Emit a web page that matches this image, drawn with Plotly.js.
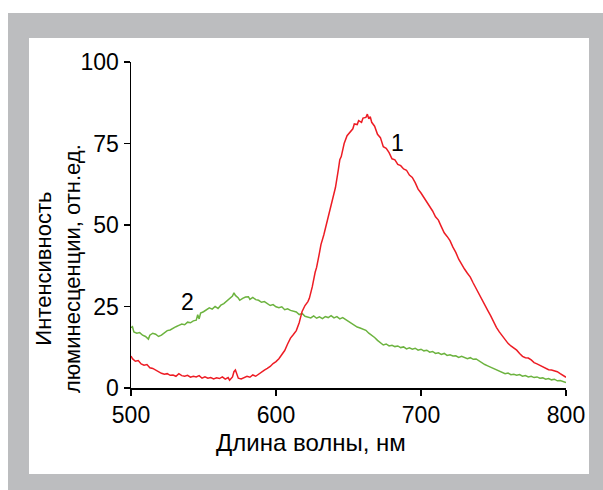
<!DOCTYPE html>
<html>
<head>
<meta charset="utf-8">
<script src="https://cdn.plot.ly/plotly-3.0.1.min.js"></script>
<style>
html,body{margin:0;padding:0;background:#ffffff;}
#chart{position:absolute;left:8px;top:13px;width:595px;height:477px;}
</style>
</head>
<body>
<div id="chart"></div>
<script>
// Curve 1 (red)
const wl1 = [500,501,503,505,507,509,511,513,515,517,519,521,523,525,527,529,531,533,535,537,539,541,543,545,547,549,551,553,555,557,559,561,563,565,567,568,570,571,572,573,574,576,578,580,582,584,586,588,590,592,594,596,598,600,602,604,606,608,610,612,614,616,618,620,622,623,625,627,628,630,631,633,635,637,639,641,643,644,645,647,649,651,653,654,656,657,659,660,662,663,664,665,666,668,670,672,674,676,678,680,682,684,686,688,690,692,694,696,698,700,702,704,706,708,710,712,714,716,718,720,722,724,726,728,730,732,734,736,738,740,742,744,746,748,750,752,754,756,758,760,762,764,766,768,770,772,774,776,778,780,782,784,786,788,790,792,794,796,798,800];
const int1 = [9.8,9.0,8.2,8.4,7.4,7.0,7.2,6.2,6.0,5.5,4.8,4.5,4.2,4.4,3.9,4.0,3.6,4.4,3.8,3.6,3.9,3.3,3.6,3.4,3.8,3.0,3.4,3.0,3.2,2.8,3.1,2.9,3.4,2.7,3.2,2.4,3.4,5.0,5.5,4.2,3.0,2.8,3.2,3.6,3.3,4.0,3.6,4.3,5.0,5.5,6.0,6.6,7.5,8.1,9.0,10.2,11.5,13.5,15.3,16.4,17.6,20.0,23.5,25.3,26.5,27.5,31,35.5,37,41.5,44,47,50.5,54,58,61.5,67,70,71,75,77.4,78.5,79.5,81,80.8,82,81.5,82.8,83,84,82.6,83.2,81.5,80.3,77.8,76.8,74,73.5,72.2,70.3,70.0,68.6,68.2,67.2,66.8,65.3,64.6,63.0,61.0,59.8,58.5,56.8,55.5,54.3,52.5,51.5,49.5,47.6,46.5,45.2,43.2,41.6,39.5,37.8,36.5,35.2,34.0,32.2,30.5,28.6,26.8,25.2,23.8,22.2,20.2,18.6,17.2,16.0,14.9,13.7,12.9,12.2,11.6,10.6,9.7,9.3,9.2,8.6,7.8,7.4,7.0,6.6,6.0,5.6,5.5,5.2,5.0,4.4,3.9,3.3];

// Curve 2 (green)
const wl2 = [500,501,502,504,506,508,510,512,513,515,517,519,521,523,525,527,529,531,533,535,537,539,541,543,545,546,547,548,550,552,554,556,558,560,562,564,566,568,570,571,572,574,575,577,579,581,582,584,586,588,590,592,594,596,598,600,602,604,606,608,610,612,614,616,618,620,622,624,626,628,630,632,634,636,638,640,642,644,646,648,650,652,654,656,658,660,662,664,666,668,670,672,674,676,678,680,682,684,686,688,690,692,694,696,698,700,702,704,706,708,710,712,714,716,718,720,722,724,726,728,730,732,734,736,738,740,742,744,746,748,750,752,754,756,758,760,762,764,766,768,770,772,774,776,778,780,782,784,786,788,790,792,794,796,798,800];
const int2 = [18.5,18.8,17.2,16.8,17.0,16.2,15.8,15.0,16.2,16.8,16.5,15.8,16.2,17.0,17.6,17.8,18.4,18.8,19.2,19.6,19.4,20.2,20.0,20.6,20.8,22.5,21.2,23.0,23.4,24.0,24.6,24.2,25.0,24.4,25.4,25.9,26.6,27.3,28.2,29.2,28.4,27.6,26.9,27.5,27.9,28.0,27.2,27.8,27.1,26.9,26.3,26.5,25.8,25.3,25.6,24.9,24.6,24.9,24.0,24.3,23.8,23.5,23.3,22.5,22.9,22.0,21.8,21.5,22.1,21.4,21.8,21.3,21.9,21.6,22.2,21.5,21.9,21.2,21.6,21.0,20.3,19.8,19.1,18.7,18.4,18.0,17.7,16.8,16.2,15.5,14.6,14.0,13.2,13.5,12.9,13.1,12.7,12.9,12.4,12.6,12.0,12.3,11.9,12.2,11.6,11.9,11.4,11.6,11.0,11.2,10.6,10.8,10.3,10.6,10.0,10.2,9.8,9.9,9.4,9.7,9.3,9.0,9.3,8.8,8.9,8.3,7.9,7.2,6.8,6.4,6.0,5.4,5.0,4.8,4.4,4.6,4.1,4.2,3.9,4.1,3.6,3.8,3.4,3.6,3.2,3.4,3.0,3.1,2.7,2.9,2.5,2.7,2.2,2.3,1.9,1.7];

const xTicks = [500, 600, 700, 800];
const yTicks = [0, 25, 50, 75, 100];
const curveLabels = ['1', '2'];
const xTitle = 'Длина волны, нм';
const yTitle = 'Интенсивность<br>люминесценции, отн.ед.';

const fontFam = '"Liberation Sans", Arial, sans-serif';

const traces = [
  {x: wl2, y: int2, type: 'scatter', mode: 'lines', line: {color: '#6cb33f', width: 1.5}, hoverinfo: 'skip'},
  {x: wl1, y: int1, type: 'scatter', mode: 'lines', line: {color: '#ed1c24', width: 1.5}, hoverinfo: 'skip'}
];

const layout = {
  width: 595, height: 477,
  margin: {l: 123, r: 37, t: 49, b: 102},
  paper_bgcolor: '#bcbdbf',
  plot_bgcolor: 'rgba(0,0,0,0)',
  showlegend: false,
  font: {family: fontFam, size: 23, color: '#000'},
  xaxis: {
    range: [500, 800], tickvals: xTicks, ticktext: xTicks.map(String),
    showline: true, linecolor: '#000', linewidth: 1.5,
    ticks: 'outside', ticklen: 6, tickwidth: 1.5, tickcolor: '#000',
    showgrid: false, zeroline: false,
    tickfont: {family: fontFam, size: 23, color: '#000'}
  },
  yaxis: {
    range: [0, 100], tickvals: yTicks, ticktext: yTicks.map(String),
    showline: true, linecolor: '#000', linewidth: 1.5,
    ticks: 'outside', ticklen: 6, tickwidth: 1.5, tickcolor: '#000',
    showgrid: false, zeroline: false,
    tickfont: {family: fontFam, size: 23, color: '#000'}
  },
  shapes: [
    {type: 'rect', xref: 'paper', yref: 'paper', x0: -0.2345, x1: 1.0529, y0: -0.2638, y1: 1.0736,
     fillcolor: '#ffffff', line: {width: 0}, layer: 'below'}
  ],
  annotations: [
    {text: curveLabels[0], x: 684, y: 75.2, xref: 'x', yref: 'y', showarrow: false, font: {family: fontFam, size: 23, color: '#000'}},
    {text: curveLabels[1], x: 539.3, y: 26.4, xref: 'x', yref: 'y', showarrow: false, font: {family: fontFam, size: 23, color: '#000'}},
    {text: xTitle, xref: 'paper', yref: 'paper', x: (311 - 131) / 435, y: (388 - 442) / 326, xanchor: 'center', yanchor: 'middle', showarrow: false, font: {family: fontFam, size: 24, color: '#000'}},
    {text: yTitle, xref: 'paper', yref: 'paper', x: (58 - 131) / 435, y: (388 - 269) / 326, xanchor: 'center', yanchor: 'middle', textangle: -90, showarrow: false, font: {family: fontFam, size: 22, color: '#000'}}
  ]
};

Plotly.newPlot('chart', traces, layout, {staticPlot: true, displayModeBar: false});
</script>
</body>
</html>
